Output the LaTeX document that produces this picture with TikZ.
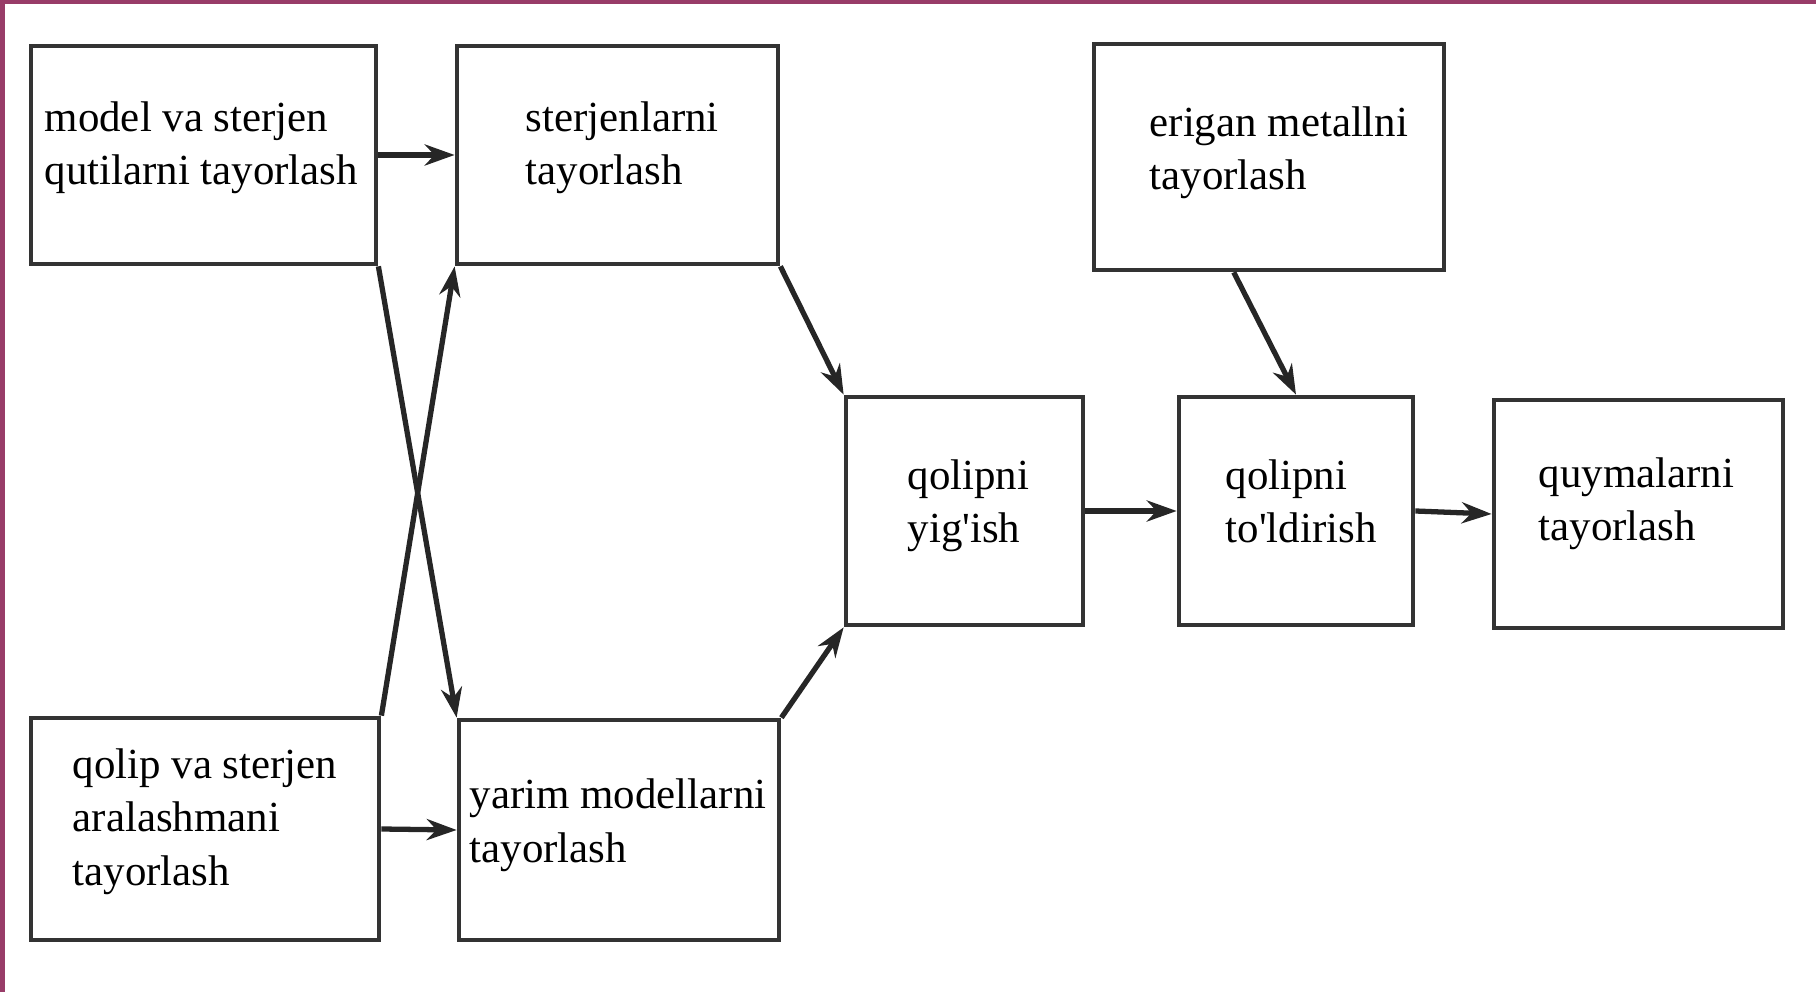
\documentclass[tikz,border=0pt]{standalone}
\usepackage{fontspec}
\setmainfont{Liberation Serif}
\usetikzlibrary{arrows.meta}
\definecolor{framepurple}{RGB}{152,60,104}

\begin{document}
\begin{tikzpicture}
    [
    x = 0.01cm, y = -0.01cm,
    every node/.style       = {font=\fontsize{12.2}{15.2}\selectfont},
    stage/.style            = {rectangle, draw=black!80, line width=1.3pt, inner sep=0pt},
    caption/.style          = {anchor=base west, align=left, inner sep=0pt},
    flow/.style             = {line width=1.5pt, draw=black!85, -{Stealth[length=8.5pt, width=6pt]}}
    ]
    \useasboundingbox (0,0) rectangle (1816,992);
    \fill [framepurple] (0,0) rectangle (5,992);
    \fill [framepurple] (0,0) rectangle (1816,4);

    % boxes
    \node [stage, minimum width=3.45cm, minimum height=2.18cm] (mvq) at (203.5,155) {};
    \node [stage, minimum width=3.21cm, minimum height=2.18cm] (stj) at (617.5,155) {};
    \node [stage, minimum width=3.50cm, minimum height=2.26cm] (erg) at (1269,157) {};
    \node [stage, minimum width=2.37cm, minimum height=2.28cm] (yig) at (964.5,511) {};
    \node [stage, minimum width=2.34cm, minimum height=2.28cm] (tld) at (1296,511) {};
    \node [stage, minimum width=2.89cm, minimum height=2.28cm] (quy) at (1638.5,514) {};
    \node [stage, minimum width=3.48cm, minimum height=2.22cm] (qsa) at (205,829) {};
    \node [stage, minimum width=3.20cm, minimum height=2.20cm] (yrm) at (619,830) {};

    % texts (placed by the baseline of the last line)
    \node [caption] (mvq-txt) at (44,185)   {model va sterjen\\qutilarni tayorlash};
    \node [caption] (stj-txt) at (525,185)  {sterjenlarni\\tayorlash};
    \node [caption] (erg-txt) at (1149,190) {erigan metallni\\tayorlash};
    \node [caption] (yig-txt) at (907,543)  {qolipni\\yig\textquotesingle ish};
    \node [caption] (tld-txt) at (1225,543) {qolipni\\to\textquotesingle ldirish};
    \node [caption] (quy-txt) at (1538,541) {quymalarni\\tayorlash};
    \node [caption] (qsa-txt) at (72,885)   {qolip va sterjen\\aralashmani\\tayorlash};
    \node [caption] (yrm-txt) at (469,862)  {yarim modellarni\\tayorlash};

    % connectors
    \draw [flow] (mvq.east) -- (stj.west);
    \draw [flow] (qsa.east) -- (yrm.west);
    \draw [flow] (mvq.south east) -- (yrm.north west);
    \draw [flow] (qsa.north east) -- (stj.south west);
    \draw [flow] (stj.south east) -- (yig.north west);
    \draw [flow] (yrm.north east) -- (yig.south west);
    \draw [flow] (erg.-107) -- (tld.north);
    \draw [flow] (yig.east) -- (tld.west);
    \draw [flow] (tld.east) -- (quy.west);
\end{tikzpicture}
\end{document}
